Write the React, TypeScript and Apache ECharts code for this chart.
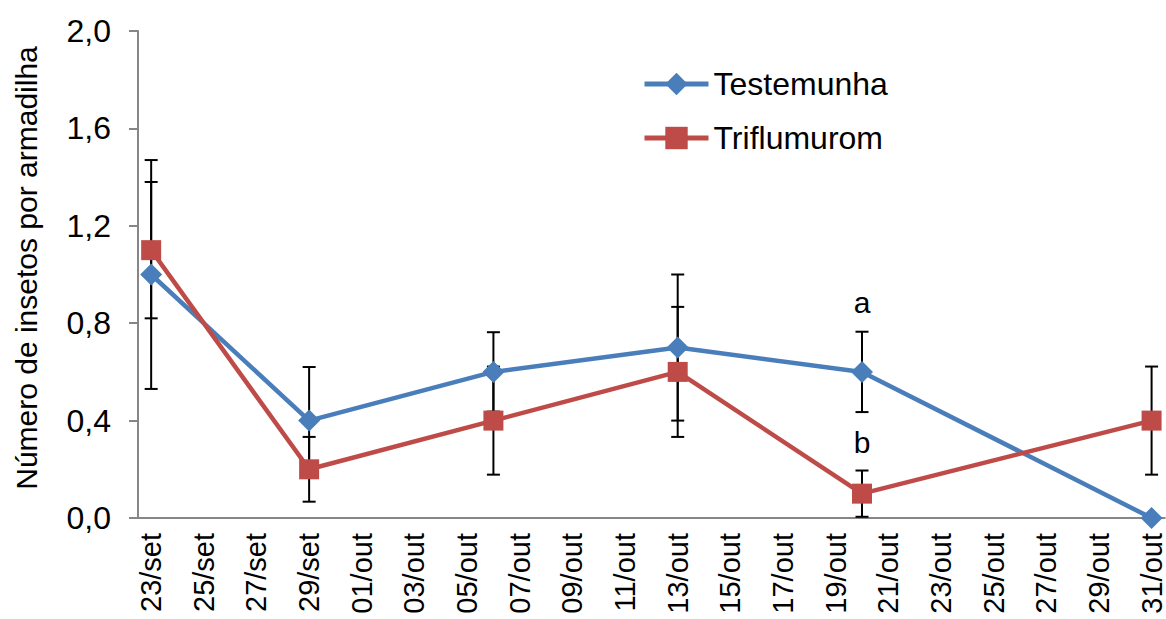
import React, { useEffect, useRef } from "react";
import * as echarts from "echarts";

// All days on the date axis (one category per day)
const days = [
  "23/set", "24/set", "25/set", "26/set", "27/set", "28/set", "29/set", "30/set",
  "01/out", "02/out", "03/out", "04/out", "05/out", "06/out", "07/out", "08/out",
  "09/out", "10/out", "11/out", "12/out", "13/out", "14/out", "15/out", "16/out",
  "17/out", "18/out", "19/out", "20/out", "21/out", "22/out", "23/out", "24/out",
  "25/out", "26/out", "27/out", "28/out", "29/out", "30/out", "31/out",
];

const sampleDates = ["23/set", "29/set", "06/out", "13/out", "20/out", "31/out"];
const testemunha = [1.0, 0.4, 0.6, 0.7, 0.6, 0.0];
const triflumurom = [1.1, 0.2, 0.4, 0.6, 0.1, 0.4];
const testemunhaErr = [0.47, 0.22, 0.163, 0.3, 0.165, 0];
const triflumuromErr = [0.28, 0.133, 0.222, 0.267, 0.095, 0.222];

const annotations = [
  ["20/out", 0.885, "a"],
  ["20/out", 0.31, "b"],
];

const yTicks = [0, 0.4, 0.8, 1.2, 1.6, 2.0];

const FONT = '"Liberation Sans", Arial, sans-serif';
const BLUE = "#4A7EBB";
const RED = "#BE4B48";

export default function App() {
  const ref = useRef<HTMLDivElement>(null);

  useEffect(() => {
    if (!ref.current) return;
    const chart = echarts.init(ref.current, undefined, { renderer: "svg" });

    const errData: any[] = [];
    sampleDates.forEach((d, i) => {
      if (testemunhaErr[i] > 0)
        errData.push([d, testemunha[i] - testemunhaErr[i], testemunha[i] + testemunhaErr[i]]);
      if (triflumuromErr[i] > 0)
        errData.push([d, triflumurom[i] - triflumuromErr[i], triflumurom[i] + triflumuromErr[i]]);
    });

    const option: any = {
      animation: false,
      backgroundColor: "#ffffff",
      textStyle: { fontFamily: FONT },
      grid: { left: 138, top: 31, width: 1033.5, height: 487, containLabel: false },
      legend: {
        data: ["Testemunha", "Triflumurom"],
        orient: "vertical",
        left: 642,
        top: 68,
        padding: 0,
        itemWidth: 64,
        itemHeight: 28,
        itemGap: 22,
        lineStyle: { width: 5 },
        textStyle: { fontSize: 32, color: "#000", fontFamily: FONT },
      },
      xAxis: {
        type: "category",
        data: days,
        boundaryGap: true,
        axisLine: { lineStyle: { color: "#868686", width: 2 } },
        axisTick: { interval: 1, length: 9, lineStyle: { color: "#868686", width: 2 } },
        axisLabel: {
          interval: 1,
          rotate: 90,
          margin: 15,
          fontSize: 29,
          color: "#000",
          fontFamily: FONT,
        },
        splitLine: { show: false },
      },
      yAxis: {
        type: "value",
        min: 0,
        max: 2,
        interval: 0.4,
        axisLine: { show: true, lineStyle: { color: "#868686", width: 2 } },
        axisTick: { show: true, length: 9, lineStyle: { color: "#868686", width: 2 } },
        axisLabel: {
          margin: 27,
          fontSize: 32,
          color: "#000",
          fontFamily: FONT,
          formatter: (v: number) => {
            const t = yTicks.find((x) => Math.abs(x - v) < 1e-6);
            return (t ?? v).toFixed(1).replace(".", ",");
          },
        },
        splitLine: { show: false },
      },
      graphic: [
        {
          type: "text",
          x: 26,
          y: 268,
          rotation: Math.PI / 2,
          style: {
            text: "Número de insetos por armadilha",
            fontSize: 30,
            fontFamily: FONT,
            fill: "#000",
            align: "center",
            verticalAlign: "middle",
          },
        },
      ],
      series: [
        {
          type: "custom",
          name: "err",
          z: 1,
          data: errData,
          encode: { x: 0, y: [1, 2] },
          renderItem: (params: any, api: any) => {
            const x = api.value(0);
            const lo = api.coord([x, api.value(1)]);
            const hi = api.coord([x, api.value(2)]);
            const cw = 6.5;
            const style = { stroke: "#000", lineWidth: 2 };
            return {
              type: "group",
              children: [
                { type: "line", shape: { x1: lo[0], y1: lo[1], x2: hi[0], y2: hi[1] }, style },
                { type: "line", shape: { x1: lo[0] - cw, y1: lo[1], x2: lo[0] + cw, y2: lo[1] }, style },
                { type: "line", shape: { x1: hi[0] - cw, y1: hi[1], x2: hi[0] + cw, y2: hi[1] }, style },
              ],
            };
          },
        },
        {
          type: "line",
          name: "Testemunha",
          z: 3,
          data: sampleDates.map((d, i) => [d, testemunha[i]]),
          symbol: "diamond",
          symbolSize: 22,
          showAllSymbol: true,
          lineStyle: { color: BLUE, width: 4.5 },
          itemStyle: { color: BLUE },
        },
        {
          type: "line",
          name: "Triflumurom",
          z: 3,
          data: sampleDates.map((d, i) => [d, triflumurom[i]]),
          symbol: "rect",
          symbolSize: 20,
          showAllSymbol: true,
          lineStyle: { color: RED, width: 4.5 },
          itemStyle: { color: RED },
        },
        {
          type: "scatter",
          name: "labels",
          z: 4,
          symbolSize: 0,
          itemStyle: { opacity: 1 },
          data: annotations,
          label: {
            show: true,
            position: "inside",
            formatter: (p: any) => p.value[2],
            fontSize: 30,
            color: "#000",
            fontFamily: FONT,
          },
        },
      ],
    };

    chart.setOption(option);
    return () => chart.dispose();
  }, []);

  return (
    <div
      ref={ref}
      style={{ position: "fixed", left: 0, top: 0, width: 1166, height: 619, background: "#fff" }}
    />
  );
}
